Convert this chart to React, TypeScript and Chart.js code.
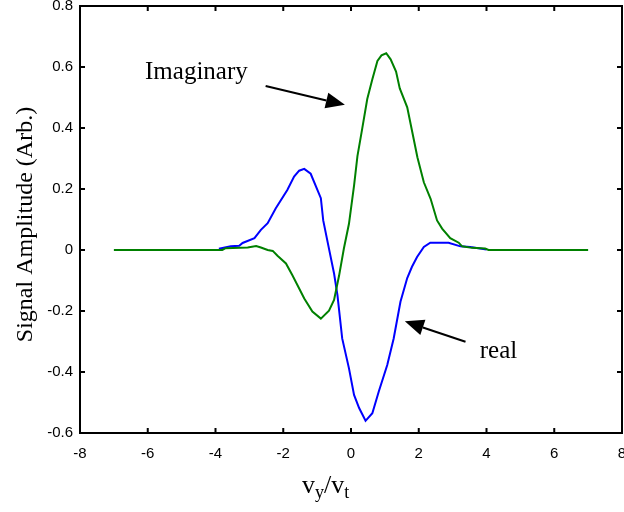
import React, { useEffect, useRef } from "react";
import { Chart, registerables } from "chart.js";

Chart.register(...registerables);

// ---- data ----
const realX = [-3.9, -3.55, -3.3, -3.2, -2.85, -2.66, -2.46, -2.22, -1.88, -1.68, -1.53, -1.38, -1.19, -0.89, -0.82, -0.67, -0.5, -0.4, -0.26, -0.06, 0.09, 0.24, 0.43, 0.63, 0.82, 1.07, 1.26, 1.46, 1.66, 1.8, 1.95, 2.15, 2.34, 2.88, 3.23, 3.52, 4.0];
const realY = [0.004, 0.012, 0.014, 0.023, 0.039, 0.066, 0.088, 0.137, 0.197, 0.241, 0.26, 0.266, 0.25, 0.17, 0.097, 0.015, -0.077, -0.148, -0.29, -0.388, -0.475, -0.518, -0.56, -0.535, -0.464, -0.377, -0.29, -0.17, -0.092, -0.055, -0.023, 0.01, 0.024, 0.024, 0.012, 0.01, 0.002];

const imagX = [-7, -3.8, -3.7, -3.05, -2.8, -2.66, -2.46, -2.31, -2.17, -1.92, -1.73, -1.53, -1.38, -1.14, -0.89, -0.65, -0.5, -0.35, -0.21, -0.06, 0.09, 0.19, 0.33, 0.48, 0.63, 0.78, 0.9, 1.04, 1.17, 1.33, 1.44, 1.66, 1.81, 1.96, 2.15, 2.35, 2.54, 2.69, 2.93, 3.18, 3.28, 3.57, 3.96, 4.06, 7];
const imagY = [0, 0, 0.006, 0.008, 0.013, 0.008, 0.0, -0.003, -0.019, -0.044, -0.083, -0.126, -0.159, -0.202, -0.225, -0.199, -0.164, -0.083, 0.005, 0.086, 0.211, 0.308, 0.397, 0.495, 0.56, 0.62, 0.638, 0.645, 0.625, 0.585, 0.53, 0.468, 0.386, 0.304, 0.222, 0.168, 0.097, 0.07, 0.039, 0.024, 0.012, 0.007, 0.005, 0.0, 0];

const xTicks = [-8, -6, -4, -2, 0, 2, 4, 6, 8];
const yTicks = [-0.6, -0.4, -0.2, 0, 0.2, 0.4, 0.6, 0.8];

const yTitle = "Signal Amplitude (Arb.)";
const imagLabel = "Imaginary";
const realLabel = "real";

// annotation anchors in data units
const imagText = { x: -6.08, y: 0.561 };
const imagArrow = { x0: -2.52, y0: 0.538, x1: -0.18, y1: 0.476 };
const realText = { x: 3.8, y: -0.353 };
const realArrow = { x0: 3.38, y0: -0.301, x1: 1.59, y1: -0.234 };

const SERIF = "'Liberation Serif', 'Times New Roman', serif";
const SANS = "'Liberation Sans', Arial, sans-serif";

function drawArrow(ctx: CanvasRenderingContext2D, x0: number, y0: number, x1: number, y1: number) {
  const ang = Math.atan2(y1 - y0, x1 - x0);
  const hl = 19;
  const hw = 8;
  const bx = x1 - hl * Math.cos(ang);
  const by = y1 - hl * Math.sin(ang);
  ctx.save();
  ctx.strokeStyle = "#000";
  ctx.fillStyle = "#000";
  ctx.lineWidth = 2;
  ctx.beginPath();
  ctx.moveTo(x0, y0);
  ctx.lineTo(bx, by);
  ctx.stroke();
  ctx.beginPath();
  ctx.moveTo(x1, y1);
  ctx.lineTo(bx + hw * Math.sin(ang), by - hw * Math.cos(ang));
  ctx.lineTo(bx - hw * Math.sin(ang), by + hw * Math.cos(ang));
  ctx.closePath();
  ctx.fill();
  ctx.restore();
}

const framePlugin = {
  id: "framePlugin",
  afterDraw(chart: any) {
    const ctx: CanvasRenderingContext2D = chart.ctx;
    const { left, right, top, bottom } = chart.chartArea;
    const xs = chart.scales.x;
    const ys = chart.scales.y;
    ctx.save();
    ctx.strokeStyle = "#000";
    ctx.lineWidth = 2;
    ctx.strokeRect(left, top, right - left, bottom - top);
    const tl = 5;
    ctx.beginPath();
    xTicks.slice(1, -1).forEach((v) => {
      const px = xs.getPixelForValue(v);
      ctx.moveTo(px, bottom);
      ctx.lineTo(px, bottom - tl);
      ctx.moveTo(px, top);
      ctx.lineTo(px, top + tl);
    });
    yTicks.slice(1, -1).forEach((v) => {
      const py = ys.getPixelForValue(v);
      ctx.moveTo(left, py);
      ctx.lineTo(left + tl, py);
      ctx.moveTo(right, py);
      ctx.lineTo(right - tl, py);
    });
    ctx.stroke();

    // annotations
    ctx.fillStyle = "#000";
    ctx.font = `25px ${SERIF}`;
    ctx.textAlign = "left";
    ctx.textBaseline = "alphabetic";
    ctx.fillText(imagLabel, xs.getPixelForValue(imagText.x), ys.getPixelForValue(imagText.y));
    ctx.fillText(realLabel, xs.getPixelForValue(realText.x), ys.getPixelForValue(realText.y));
    drawArrow(ctx, xs.getPixelForValue(imagArrow.x0), ys.getPixelForValue(imagArrow.y0), xs.getPixelForValue(imagArrow.x1), ys.getPixelForValue(imagArrow.y1));
    drawArrow(ctx, xs.getPixelForValue(realArrow.x0), ys.getPixelForValue(realArrow.y0), xs.getPixelForValue(realArrow.x1), ys.getPixelForValue(realArrow.y1));

    // y title
    ctx.save();
    ctx.translate(31.5, (top + bottom) / 2 + 5);
    ctx.rotate(-Math.PI / 2);
    ctx.font = `24px ${SERIF}`;
    ctx.textAlign = "center";
    ctx.textBaseline = "alphabetic";
    ctx.fillText(yTitle, 0, 0);
    ctx.restore();

    // x title: v_y / v_t
    const base = chart.height - 19;
    let cx = 302;
    const big = `26px ${SERIF}`;
    const small = `18px ${SERIF}`;
    const parts: [string, string, number][] = [
      ["v", big, 0],
      ["y", small, 5],
      ["/", big, 0],
      ["v", big, 0],
      ["t", small, 5],
    ];
    ctx.textAlign = "left";
    parts.forEach(([t, f, dy]) => {
      ctx.font = f;
      ctx.fillText(t, cx, base + dy);
      cx += ctx.measureText(t).width;
    });
    ctx.restore();
  },
};

export default function App() {
  const ref = useRef<HTMLCanvasElement | null>(null);
  useEffect(() => {
    if (!ref.current) return;
    const chart = new Chart(ref.current, {
      type: "line",
      data: {
        datasets: [
          {
            label: "Imaginary",
            data: imagX.map((x, i) => ({ x, y: imagY[i] })),
            borderColor: "#008000",
            borderWidth: 2,
            pointRadius: 0,
            fill: false,
            tension: 0,
            order: 0,
          },
          {
            label: "real",
            data: realX.map((x, i) => ({ x, y: realY[i] })),
            borderColor: "#0000ff",
            borderWidth: 2,
            pointRadius: 0,
            fill: false,
            tension: 0,
            order: 1,
          },
        ],
      },
      options: {
        animation: false,
        responsive: false,
        devicePixelRatio: 1,
        layout: { padding: { left: 0, top: 6, right: 2, bottom: 0 } },
        plugins: { legend: { display: false }, tooltip: { enabled: false } },
        scales: {
          x: {
            type: "linear",
            min: -8,
            max: 8,
            grid: { display: false, drawTicks: false },
            border: { display: false },
            afterBuildTicks: (s: any) => {
              s.ticks = xTicks.map((v) => ({ value: v }));
            },
            afterFit: (s: any) => {
              s.height = 79;
              s.paddingLeft = 0;
              s.paddingRight = 0;
            },
            ticks: {
              color: "#000",
              font: { family: SANS, size: 15 },
              padding: 12,
              maxRotation: 0,
              autoSkip: false,
              callback: (v: any) => String(Math.round(Number(v))),
            },
          },
          y: {
            type: "linear",
            min: -0.6,
            max: 0.8,
            grid: { display: false, drawTicks: false },
            border: { display: false },
            afterBuildTicks: (s: any) => {
              s.ticks = yTicks.map((v) => ({ value: v }));
            },
            afterFit: (s: any) => {
              s.width = 80;
              s.paddingTop = 0;
              s.paddingBottom = 0;
            },
            ticks: {
              color: "#000",
              font: { family: SANS, size: 15 },
              padding: 7,
              autoSkip: false,
              callback: (v: any) => String(Math.round(Number(v) * 10) / 10),
            },
          },
        },
      },
      plugins: [framePlugin],
    } as any);
    return () => chart.destroy();
  }, []);
  return (
    <div style={{ position: "fixed", left: 0, top: 0, width: 624, height: 512, background: "#fff" }}>
      <canvas ref={ref} width={624} height={512} style={{ display: "block" }} />
    </div>
  );
}
